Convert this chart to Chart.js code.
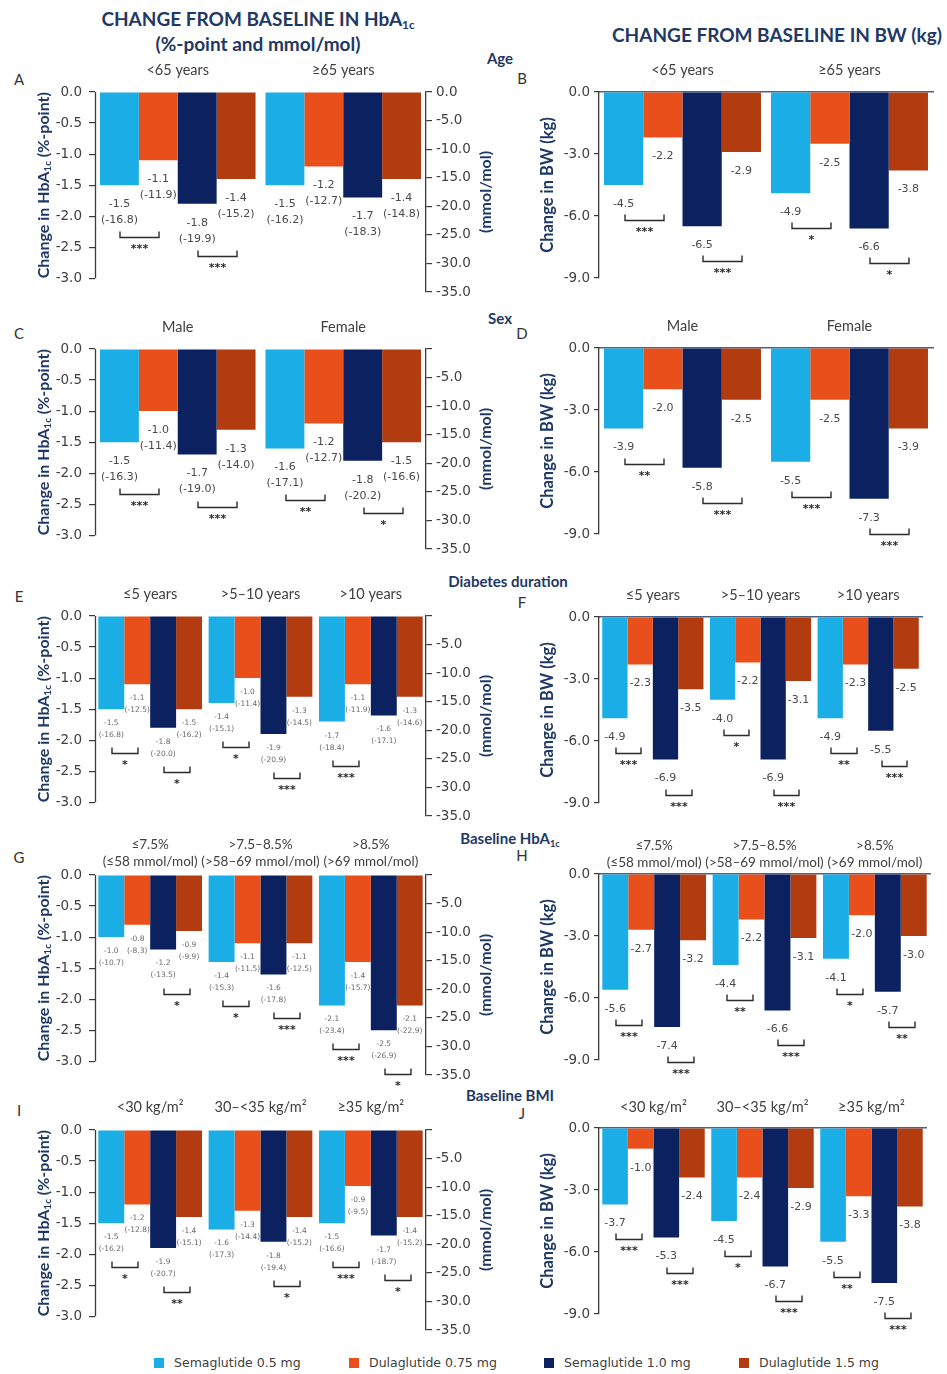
<!DOCTYPE html>
<html>
<head>
<meta charset="utf-8">
<script src="https://cdn.jsdelivr.net/npm/chart.js@4/dist/chart.umd.min.js"></script>
<style>
  body { margin:0; background:#fff; width:947px; height:1374px; position:relative; overflow:hidden; }
  canvas { position:absolute; }
  .t { position:absolute; white-space:nowrap; transform:translate(-50%,-50%); }
  .hdr { font:700 19px Lato, sans-serif; color:#1F3864; }
  .sec { font:700 15px Lato, sans-serif; color:#1F3864; }
  .let { font:400 15px Lato, sans-serif; color:#333; }
  sub { font-size:0.62em; vertical-align:-0.3em; line-height:0; }
  .leg { position:absolute; top:1355px; font:12.5px 'DejaVu Sans', sans-serif; color:#404040; white-space:nowrap; }
  .leg i { display:inline-block; width:10px; height:10px; margin-right:10px; vertical-align:-1px; }
</style>
</head>
<body>

<div class="t hdr" style="left:258px;top:18px">CHANGE FROM BASELINE IN HbA<sub>1c</sub></div>
<div class="t hdr" style="left:258px;top:43px">(%-point and mmol/mol)</div>
<div class="t hdr" style="left:777px;top:34px">CHANGE FROM BASELINE IN BW (kg)</div>

<div class="t sec" style="left:500px;top:58px">Age</div>
<div class="t sec" style="left:500px;top:318px">Sex</div>
<div class="t sec" style="left:508px;top:581px">Diabetes duration</div>
<div class="t sec" style="left:510px;top:838px">Baseline HbA<sub>1c</sub></div>
<div class="t sec" style="left:510px;top:1095px">Baseline BMI</div>

<div class="t let" style="left:19px;top:79px">A</div>
<div class="t let" style="left:522px;top:78px">B</div>
<div class="t let" style="left:19px;top:333px">C</div>
<div class="t let" style="left:522px;top:333px">D</div>
<div class="t let" style="left:19px;top:596px">E</div>
<div class="t let" style="left:522px;top:602px">F</div>
<div class="t let" style="left:19px;top:857px">G</div>
<div class="t let" style="left:522px;top:855px">H</div>
<div class="t let" style="left:19px;top:1110px">I</div>
<div class="t let" style="left:522px;top:1113px">J</div>

<div id="legend"></div>

<script>
// Treatment arms and colours
const SERIES = ['Semaglutide 0.5 mg', 'Dulaglutide 0.75 mg', 'Semaglutide 1.0 mg', 'Dulaglutide 1.5 mg'];
const COLORS = ['#1BAEE6', '#E84F1A', '#0B2160', '#B23C10'];

// Axis ticks
const hbaTicks = [0, -0.5, -1.0, -1.5, -2.0, -2.5, -3.0];
const mmolTicks = [0, -5, -10, -15, -20, -25, -30, -35];
const bwTicks = [0, -3, -6, -9];

// Subgroup categories
const ageGroups = ['<65 years', '≥65 years'];
const sexGroups = ['Male', 'Female'];
const durGroups = ['≤5 years', '>5–10 years', '>10 years'];
const baseGroups = [['≤7.5%', '(≤58 mmol/mol)'], ['>7.5–8.5%', '(>58–69 mmol/mol)'], ['>8.5%', '(>69 mmol/mol)']];
const bmiGroups = ['<30 kg/m²', '30–<35 kg/m²', '≥35 kg/m²'];

// Rows: one per arm (SERIES order), columns: subgroups
const ageHbA1c = [[-1.5, -1.5], [-1.1, -1.2], [-1.8, -1.7], [-1.4, -1.4]];
const ageMmol  = [[-16.8, -16.2], [-11.9, -12.7], [-19.9, -18.3], [-15.2, -14.8]];
const ageBw    = [[-4.5, -4.9], [-2.2, -2.5], [-6.5, -6.6], [-2.9, -3.8]];

const sexHbA1c = [[-1.5, -1.6], [-1.0, -1.2], [-1.7, -1.8], [-1.3, -1.5]];
const sexMmol  = [[-16.3, -17.1], [-11.4, -12.7], [-19.0, -20.2], [-14.0, -16.6]];
const sexBw    = [[-3.9, -5.5], [-2.0, -2.5], [-5.8, -7.3], [-2.5, -3.9]];

const durHbA1c = [[-1.5, -1.4, -1.7], [-1.1, -1.0, -1.1], [-1.8, -1.9, -1.6], [-1.5, -1.3, -1.3]];
const durMmol  = [[-16.8, -15.1, -18.4], [-12.5, -11.4, -11.9], [-20.0, -20.9, -17.1], [-16.2, -14.5, -14.6]];
const durBw    = [[-4.9, -4.0, -4.9], [-2.3, -2.2, -2.3], [-6.9, -6.9, -5.5], [-3.5, -3.1, -2.5]];

const baseHbA1c = [[-1.0, -1.4, -2.1], [-0.8, -1.1, -1.4], [-1.2, -1.6, -2.5], [-0.9, -1.1, -2.1]];
const baseMmol  = [[-10.7, -15.3, -23.4], [-8.3, -11.5, -15.7], [-13.5, -17.8, -26.9], [-9.9, -12.5, -22.9]];
const baseBw    = [[-5.6, -4.4, -4.1], [-2.7, -2.2, -2.0], [-7.4, -6.6, -5.7], [-3.2, -3.1, -3.0]];

const bmiHbA1c = [[-1.5, -1.6, -1.5], [-1.2, -1.3, -0.9], [-1.9, -1.8, -1.7], [-1.4, -1.4, -1.4]];
const bmiMmol  = [[-16.2, -17.3, -16.6], [-12.8, -14.4, -9.5], [-20.7, -19.4, -18.7], [-15.1, -15.2, -15.2]];
const bmiBw    = [[-3.7, -4.5, -5.5], [-1.0, -2.4, -3.3], [-5.3, -6.7, -7.5], [-2.4, -2.9, -3.8]];

// Significance per subgroup: [0.5 mg vs 0.75 mg, 1.0 mg vs 1.5 mg]
const ageHbA1cSig  = [['***', '***'], ['', '']];
const ageBwSig     = [['***', '***'], ['*', '*']];
const sexHbA1cSig  = [['***', '***'], ['**', '*']];
const sexBwSig     = [['**', '***'], ['***', '***']];
const durHbA1cSig  = [['*', '*'], ['*', '***'], ['***', '']];
const durBwSig     = [['***', '***'], ['*', '***'], ['**', '***']];
const baseHbA1cSig = [['', '*'], ['*', '***'], ['***', '*']];
const baseBwSig    = [['***', '***'], ['**', '***'], ['*', '**']];
const bmiHbA1cSig  = [['*', '**'], ['', '*'], ['***', '*']];
const bmiBwSig     = [['***', '***'], ['*', '***'], ['**', '***']];

// ---- drawing setup ----
const HBA_MIN = -3.22;          // -35 mmol/mol on the secondary axis
const HBA_H = 200, BW_H = 186;  // plot heights
const X_H = 50, BOT = 45;       // space above / below the plot
const TICK_FONT = { family: 'DejaVu Sans', size: 13.5 };
const TXT = '#404040', NAVY = '#1F3864', AXIS = '#3a3a3a';
const fmt = v => v.toFixed(1);

function rotatedTitle(ctx, x, yc, parts) {
  ctx.save();
  ctx.translate(x, yc);
  ctx.rotate(-Math.PI / 2);
  ctx.fillStyle = NAVY;
  ctx.textBaseline = 'middle';
  ctx.textAlign = 'left';
  let total = 0;
  parts.forEach(p => { ctx.font = `700 ${p.size}px Lato`; p.w = ctx.measureText(p.text).width; total += p.w; });
  let cx = -total / 2;
  parts.forEach(p => { ctx.font = `700 ${p.size}px Lato`; ctx.fillText(p.text, cx, p.dy || 0); cx += p.w; });
  ctx.restore();
}

function makePanel(p) {
  const isHba = p.kind === 'hba';
  const left = isHba ? 0 : 490;
  const width = isHba ? 500 : 457;
  const plotH = isHba ? HBA_H : BW_H;
  const height = X_H + plotH + BOT;
  const cvs = document.createElement('canvas');
  cvs.width = width; cvs.height = height;
  cvs.style.left = left + 'px';
  cvs.style.top = (p.top - X_H) + 'px';
  document.body.appendChild(cvs);

  const nG = p.groups.length;
  const datasets = SERIES.map((name, s) => ({
    label: name,
    data: p.values[s],
    backgroundColor: COLORS[s],
    borderWidth: 0,
    categoryPercentage: 0.94,
    barPercentage: 1.0
  }));

  const scales = {
    x: {
      type: 'category', position: 'top', offset: true, z: 1,
      grid: { display: false, drawTicks: false },
      border: isHba ? { display: false } : { display: true, color: '#4d6180', width: 1.5 },
      ticks: { font: { family: 'Lato', size: p.catSize || 14.5, lineHeight: 1.25 }, color: TXT, padding: p.gap - 9, maxRotation: 0, autoSkip: false },
      afterFit: s => { s.height = X_H; }
    },
    y: {
      position: 'left',
      min: isHba ? HBA_MIN : -9, max: 0,
      afterBuildTicks: s => { s.ticks = (isHba ? hbaTicks : bwTicks).map(v => ({ value: v })); },
      ticks: { font: TICK_FONT, color: TXT, padding: isHba ? 7 : 4, callback: v => fmt(v) },
      grid: { drawOnChartArea: false, drawTicks: true, tickLength: isHba ? 6 : 5, color: AXIS, lineWidth: 1.2 },
      border: isHba ? { display: false } : { display: true, color: AXIS, width: 1.3 },
      afterFit: s => { s.width = isHba ? 95 : 599 - left; }
    }
  };
  if (isHba) {
    scales.y2 = {
      position: 'right', min: -35, max: 0,
      afterBuildTicks: s => { s.ticks = mmolTicks.map(v => ({ value: v })); },
      ticks: { font: TICK_FONT, color: TXT, padding: 4, callback: v => (v === 0 && !p.zeroMmol) ? '' : fmt(v) },
      grid: { drawOnChartArea: false, drawTicks: true, tickLength: 6, color: AXIS, lineWidth: 1.2 },
      border: { display: true, color: AXIS, width: 1.3 },
      afterFit: s => { s.width = width - 426; }
    };
  }

  const annotate = {
    id: 'annotate',
    afterDatasetsDraw(chart) {
      const ctx = chart.ctx;
      const small = !!p.small;
      ctx.save();
      ctx.textAlign = 'center';
      ctx.textBaseline = 'middle';
      for (let g = 0; g < nG; g++) {
        const ends = [];
        const xs = [];
        for (let s = 0; s < 4; s++) {
          const bar = chart.getDatasetMeta(s).data[g];
          xs.push(bar.x); ends.push(bar.y);
          ctx.fillStyle = small ? '#6a6a6a' : '#4a4a4a';
          if (isHba) {
            ctx.font = `${small ? 7.5 : 11}px 'DejaVu Sans'`;
            const d1 = small ? 14 : 19, d2 = small ? 26 : 35;
            ctx.fillText(fmt(p.values[s][g]), bar.x, bar.y + d1);
            ctx.fillText('(' + fmt(p.mmol[s][g]) + ')', bar.x, bar.y + d2);
          } else {
            ctx.font = `11px 'DejaVu Sans'`;
            ctx.fillText(fmt(p.values[s][g]), bar.x, bar.y + 19);
          }
        }
        // significance brackets
        [[0, 1], [2, 3]].forEach((pair, k) => {
          const mark = p.sig[g][k];
          if (!mark) return;
          const yMax = Math.max(ends[pair[0]], ends[pair[1]]);
          const off = isHba ? (small ? 44 : 52) : 35;
          const yb = Math.round(yMax + off) + 0.5;
          const x0 = Math.round(xs[pair[0]]) + 1, x1 = Math.round(xs[pair[1]]) + 1;
          ctx.strokeStyle = '#2b2b2b';
          ctx.lineWidth = 1.4;
          ctx.beginPath();
          ctx.moveTo(x0, yb - 6); ctx.lineTo(x0, yb); ctx.lineTo(x1, yb); ctx.lineTo(x1, yb - 6);
          ctx.stroke();
          ctx.fillStyle = '#2b2b2b';
          ctx.font = `700 11px 'DejaVu Sans'`;
          ctx.fillText(mark, (x0 + x1) / 2, yb + 12);
        });
      }
      ctx.restore();
    },
    afterDraw(chart) {
      const ctx = chart.ctx;
      const ca = chart.chartArea;
      const y = chart.scales.y;
      if (isHba) {
        // left axis line stops at -3.0
        ctx.save();
        ctx.strokeStyle = AXIS; ctx.lineWidth = 1.3;
        const xa = Math.round(ca.left) + 0.5;
        ctx.beginPath();
        ctx.moveTo(xa, y.getPixelForValue(0));
        ctx.lineTo(xa, y.getPixelForValue(-3));
        ctx.stroke();
        ctx.restore();
        const yc = (y.getPixelForValue(0) + y.getPixelForValue(-3)) / 2;
        rotatedTitle(ctx, 44, yc, [
          { text: 'Change in HbA', size: 16 },
          { text: '1c', size: 10, dy: 3.5 },
          { text: ' (%-point)', size: 16 }
        ]);
        rotatedTitle(ctx, 486, (ca.top + ca.bottom) / 2, [{ text: '(mmol/mol)', size: 16 }]);
      } else {
        rotatedTitle(ctx, 548 - left, (ca.top + ca.bottom) / 2, [{ text: 'Change in BW (kg)', size: 16.5 }]);
      }
    }
  };

  new Chart(cvs, {
    type: 'bar',
    data: { labels: p.groups, datasets },
    options: {
      responsive: false,
      animation: false,
      events: [],
      layout: { padding: { left: 0, top: 0, bottom: BOT, right: isHba ? 0 : width - (p.right - left) } },
      plugins: { legend: { display: false }, tooltip: { enabled: false } },
      scales
    },
    plugins: [annotate]
  });
}

const panels = [
  { kind: 'hba', top: 92,  groups: ageGroups,  values: ageHbA1c,  mmol: ageMmol,  sig: ageHbA1cSig,  gap: 22, zeroMmol: true },
  { kind: 'bw',  top: 92,  groups: ageGroups,  values: ageBw,     sig: ageBwSig,  gap: 22, right: 933 },
  { kind: 'hba', top: 349, groups: sexGroups,  values: sexHbA1c,  mmol: sexMmol,  sig: sexHbA1cSig,  gap: 22 },
  { kind: 'bw',  top: 348, groups: sexGroups,  values: sexBw,     sig: sexBwSig,  gap: 22, right: 933 },
  { kind: 'hba', top: 616, groups: durGroups,  values: durHbA1c,  mmol: durMmol,  sig: durHbA1cSig,  gap: 22, small: true },
  { kind: 'bw',  top: 617, groups: durGroups,  values: durBw,     sig: durBwSig,  gap: 22, right: 922 },
  { kind: 'hba', top: 875, groups: baseGroups, values: baseHbA1c, mmol: baseMmol, sig: baseHbA1cSig, gap: 14, small: true, catSize: 13.5 },
  { kind: 'bw',  top: 874, groups: baseGroups, values: baseBw,    sig: baseBwSig, gap: 12, right: 930, catSize: 13.5 },
  { kind: 'hba', top: 1130, groups: bmiGroups, values: bmiHbA1c,  mmol: bmiMmol,  sig: bmiHbA1cSig,  gap: 23, small: true },
  { kind: 'bw',  top: 1128, groups: bmiGroups, values: bmiBw,     sig: bmiBwSig,  gap: 21, right: 926 }
];
panels.forEach(makePanel);

// legend row
const legendX = [154, 349, 544, 739];
const legend = document.getElementById('legend');
SERIES.forEach((name, s) => {
  const d = document.createElement('div');
  d.className = 'leg';
  d.style.left = legendX[s] + 'px';
  d.innerHTML = `<i style="background:${COLORS[s]}"></i>${name}`;
  legend.appendChild(d);
});
</script>
</body>
</html>
